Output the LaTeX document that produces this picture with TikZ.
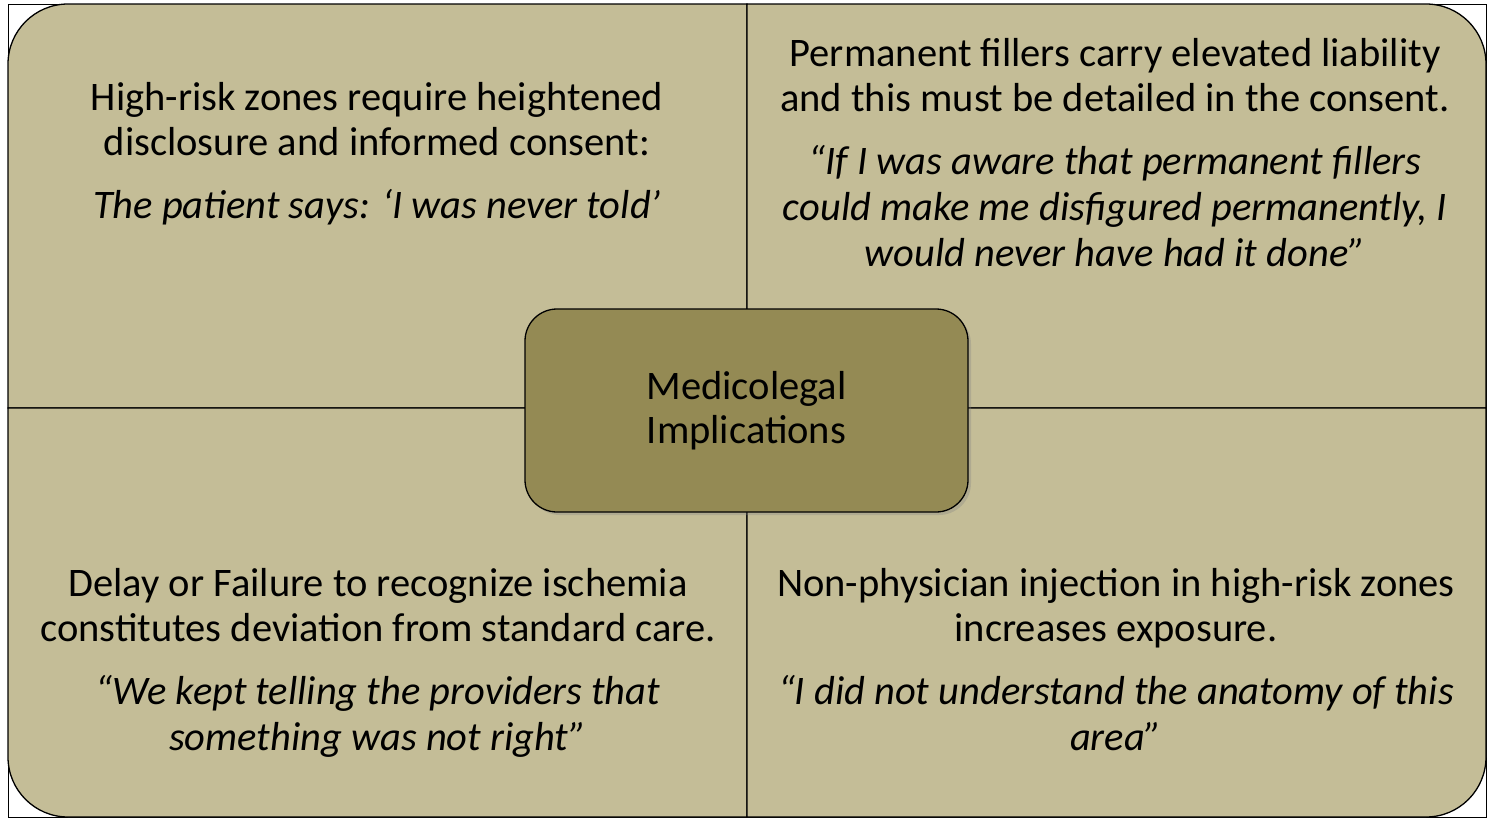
\documentclass[tikz,border=0pt]{standalone}
\usepackage{fontspec}
\setmainfont{Carlito}
\usetikzlibrary{shadows}
\definecolor{quad}{HTML}{C4BD97}
\definecolor{mid}{HTML}{948A54}
\begin{document}
\begin{tikzpicture}[x=1pt,y=-1pt,
  q/.style={fill=quad,draw=black,line width=1.3pt},
  t/.style={align=center,font=\fontsize{40.5}{45}\selectfont,inner sep=0pt,anchor=north}]
\useasboundingbox (0,0) rectangle (1492,827);
\draw[line width=1pt] (8,4) rectangle (1486,817);
\draw[q] (747,408) -- (8,408) [rounded corners=60pt]-- (8,4) [sharp corners]-- (747,4) -- cycle;
\draw[q] (747,408) -- (747,4) [rounded corners=60pt]-- (1486,4) [sharp corners]-- (1486,408) -- cycle;
\draw[q] (747,408) -- (8,408) [rounded corners=60pt]-- (8,817) [sharp corners]-- (747,817) -- cycle;
\draw[q] (747,408) -- (1486,408) [rounded corners=60pt]-- (1486,817) [sharp corners]-- (747,817) -- cycle;
\node[draw=black,line width=1.3pt,fill=mid,rounded corners=32pt,minimum width=443pt,minimum height=203pt,
  drop shadow={shadow xshift=3pt,shadow yshift=-3pt,opacity=0.3},
  align=center,font=\fontsize{40.5}{44}\selectfont] (c) at (746.5,410.5) {Medicolegal\\Implications};
\node[t] (tl) at (377,82) {High-risk zones require heightened\\disclosure and informed consent:\\[18pt]\itshape The patient says: ‘I was never told’};
\node[t] (tr) at (1115,38) {Permanent fillers carry elevated liability\\and this must be detailed in the consent.\\[18pt]\itshape “If I was aware that permanent fillers\\[1pt]\itshape could make me disfigured permanently, I\\[1pt]\itshape would never have had it done”};
\node[t] (bl) at (378,568) {Delay or Failure to recognize ischemia\\constitutes deviation from standard care.\\[18pt]\itshape “We kept telling the providers that\\[1pt]\itshape something was not right”};
\node[t] (br) at (1116,568) {Non-physician injection in high-risk zones\\increases exposure.\\[18pt]\itshape “I did not understand the anatomy of this\\[1pt]\itshape area”};
\end{tikzpicture}
\end{document}
